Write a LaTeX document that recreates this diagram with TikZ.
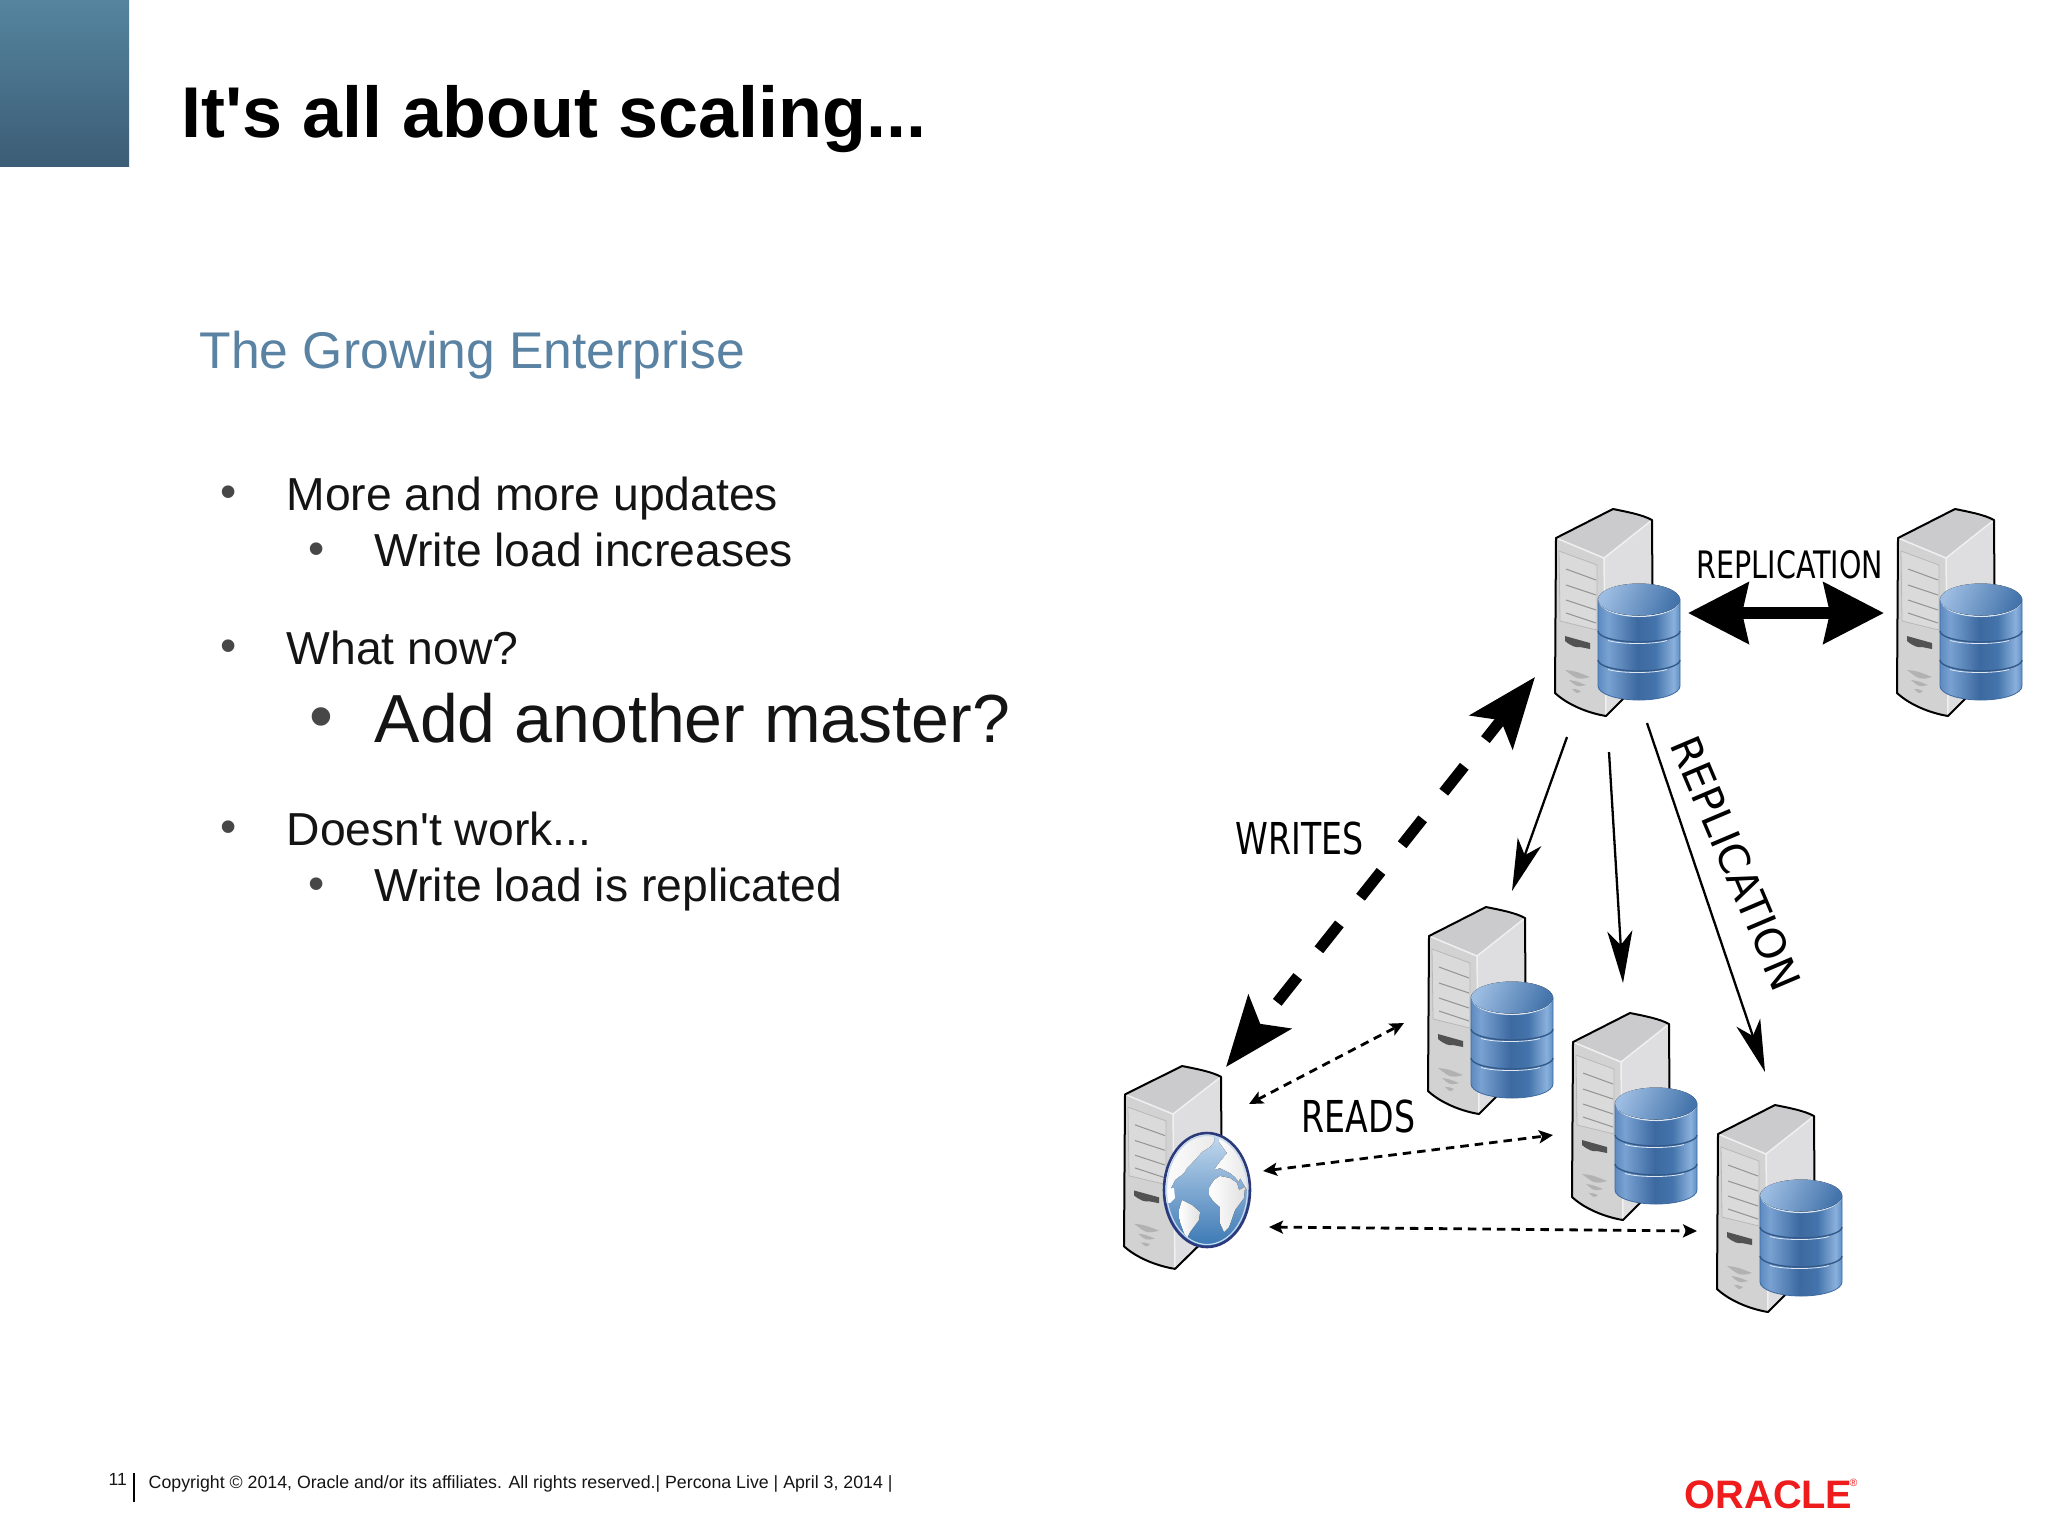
\documentclass[tikz,border=0pt]{standalone}
\usepackage{fontspec}
\newfontfamily\slidefont{Liberation Sans}
\newfontfamily\labelfont[FakeStretch=0.755]{DejaVu Sans}
\newfontfamily\sidefont{DejaVu Sans}
\usetikzlibrary{arrows.meta}
\usetikzlibrary{positioning}

\definecolor{subblue}{HTML}{5A82A3}
\definecolor{cornerA}{HTML}{55849F}
\definecolor{cornerB}{HTML}{3C5D75}
\definecolor{bodyblack}{HTML}{141414}
\definecolor{oraclered}{HTML}{EE1C1C}
\definecolor{dbA}{HTML}{5D8AC0}
\definecolor{dbB}{HTML}{79A2D2}
\definecolor{dbC}{HTML}{3C69A0}
\definecolor{dbE}{HTML}{4474AB}
\definecolor{dbD}{HTML}{8AB0DC}
\definecolor{dbF}{HTML}{6090C6}
\definecolor{globeA}{HTML}{C5DAEF}
\definecolor{globeB}{HTML}{3A78B4}
\definecolor{globeC}{HTML}{2B3A7A}
\definecolor{srvtop}{HTML}{CBCACC}
\definecolor{srvside}{HTML}{DEDDDF}
\definecolor{srvfront}{HTML}{D2D2D3}
\definecolor{srvpanel}{HTML}{DADADB}
\pgfdeclarehorizontalshading{dbbody}{100bp}{color(0bp)=(dbA); color(25bp)=(dbA); color(31bp)=(dbB); color(49bp)=(dbC); color(60bp)=(dbE); color(71bp)=(dbD); color(75bp)=(dbF); color(100bp)=(dbF)}

\tikzset{
  txt/.style={inner sep=0pt,anchor=base west,text=bodyblack},
  bodytxt/.style={txt,font=\slidefont\fontsize{13.16}{16}\selectfont},
  dot/.style={inner sep=0pt,anchor=base,text=black!72,font=\slidefont\fontsize{13.16}{16}\selectfont},
  bigdot/.style={dot,font=\slidefont\fontsize{19.35}{22}\selectfont},
  archlabel/.style={inner sep=0pt,anchor=base west,text=black,font=\labelfont\fontsize{12.5}{14}\selectfont},
  writearrow/.style={line width=.11cm,dash pattern=on .33cm off .34cm,dash phase=.36cm,
    {Stealth[length=.7cm,width=.54cm,inset=.15cm]}-{Stealth[length=.7cm,width=.54cm,inset=.15cm]}},
  syncarrow/.style={line width=.12cm,{Stealth[length=.6cm,width=.6cm,inset=.06cm]}-{Stealth[length=.6cm,width=.6cm,inset=.06cm]}},
  copyarrow/.style={line width=.023cm,-{Stealth[length=.52cm,width=.25cm,inset=.14cm]}},
  readarrow/.style={line width=.028cm,dash pattern=on .085cm off .06cm,
    {Stealth[length=.14cm,width=.13cm,inset=.03cm]}-{Stealth[length=.14cm,width=.13cm,inset=.03cm]}},
  serverbox/.pic={
    \fill[srvtop] (-57,29) -- (0,0) -- (39,11) -- (-9,49) -- cycle;
    \fill[srvside] (39,11) -- (40,160) -- (-7,206) -- (-9,49) -- cycle;
    \fill[srvfront] (-57,29) -- (-9,49) -- (-7,206) .. controls (-25,204) and (-45,196) .. (-58,184) -- cycle;
    \draw[black!6,line width=.015cm] (-57,29) -- (-9,49) -- (39,11);
    \draw[black!6,line width=.015cm] (-9,49) -- (-7,206);
    \fill[srvpanel,draw=black!28,line width=.008cm] (-54,42) -- (-16,56) -- (-16,121) -- (-53,112) -- cycle;
    \foreach \ya/\yb in {60/71,76/86,91/101,104/114} \draw[black!42,line width=.01cm] (-47,\ya) -- (-17,\yb);
    \fill[black!68] (-48,127) -- (-23,134) -- (-23,140) -- (-33,138) .. controls (-37,139) and (-42,137) .. (-48,132) -- cycle;
    \fill[black!30] (-48,161) .. controls (-38,162) .. (-23,168) .. controls (-35,171) .. (-48,161);
    \fill[black!30] (-44,171) .. controls (-37,172) .. (-27,176) .. controls (-36,178) .. (-44,171);
    \fill[black!30] (-41,180) .. controls (-37,180) .. (-32,182) .. controls (-36,185) .. (-41,180);
    \draw[black,line width=.02cm,line join=round] (-57,29) -- (0,0) .. controls (15,3) and (30,6) .. (39,11) -- (40,160) -- (-7,207)
      .. controls (-25,204) and (-45,196) .. (-58,184) -- cycle;
  },
  dbbox/.pic={
    \path[shading=dbbody,draw=dbC,line width=.008cm] (-15,90) -- (-15,177) arc[start angle=180,end angle=0,x radius=41,y radius=14] -- (67,90) -- cycle;
    \foreach \yg in {122,151} {
      \draw[dbC!85!black,line width=.014cm] (-15,\yg) arc[start angle=180,end angle=0,x radius=41,y radius=11];
      \draw[white!75!dbB,line width=.008cm] (-5,\yg+9.5) arc[start angle=150,end angle=30,x radius=34,y radius=6];
    }
    \fill[white!75!dbB] (-15,90.5) arc[start angle=180,end angle=0,x radius=41,y radius=17.5] arc[start angle=0,end angle=180,x radius=41,y radius=16] -- cycle;
    \fill[left color=dbD!85!white,right color=dbE,shading angle=65] (26,90.5) ellipse[x radius=41,y radius=16];
  },
  globebox/.pic={
    \begin{scope}
      \clip (0,0) ellipse[x radius=43,y radius=57];
      \fill[top color=globeA,bottom color=globeB] (-43,-57) rectangle (43,57);
      \fill[left color=white,right color=black!12] plot coordinates {(2,-2) (7,-10) (13,-14) (23,-12) (30,-7) (32,0) (38,-3) (37,8) (28,20) (22,37) (17,42) (13,33) (13,17) (7,12) (2,5)} -- cycle;
      \fill[left color=white,right color=black!8] plot coordinates {(-50,3) (-50,-30) (-30,-60) (7,-60) (7,-48) (3,-43) (-5,-38) (-15,-27) (-20,-22) (-23,-17) (-32,-10) (-37,0) (-39,3)} -- cycle;
      \fill[left color=white,right color=black!12] plot coordinates {(12,-60) (12,-48) (20,-37) (12,-27) (7,-20) (13,-22) (23,-17) (28,-13) (32,-8) (33,-12) (40,0) (50,0) (50,-30) (30,-60)} -- cycle;
      \fill[left color=white,right color=black!12] plot coordinates {(-28,20) (-25,10) (-15,15) (-7,22) (-8,30) (-17,42) (-20,48) (-23,43) (-27,32)} -- cycle;
      \fill[white] plot coordinates {(-50,0) (-33,-2) (-32,8) (-37,13) (-50,12)} -- cycle;
      \draw[globeA,line width=.012cm] (0,0) ellipse[x radius=40.5,y radius=54.5];
    \end{scope}
    \draw[globeC,line width=.026cm] (0,0) ellipse[x radius=43,y radius=57];
  },
}

\begin{document}
\begin{tikzpicture}[x=.01cm,y=-.01cm]
  \useasboundingbox (0,0) rectangle (2048,1535);
  \fill[top color=cornerA,bottom color=cornerB] (0,0) rectangle (129,166);

  % slide text
  \node[txt,text=black,font=\slidefont\fontsize{20.45}{24}\selectfont\bfseries] (title) at (181,137) {It's all about scaling...};
  \node[txt,text=subblue,font=\slidefont\fontsize{14.68}{18}\selectfont] (subtitle) at (199,368) {The Growing Enterprise};
  \node[dot] (b_1) at (229,507) {•};
  \node[bodytxt] (t_1) at (286,510) {More and more updates};
  \node[dot] (b_2) at (317,564) {•};
  \node[bodytxt] (t_2) at (374,566) {Write load increases};
  \node[dot] (b_3) at (229,661) {•};
  \node[bodytxt] (t_3) at (286,664) {What now?};
  \node[bigdot] (b_4) at (321,739) {•};
  \node[txt,font=\slidefont\fontsize{19.35}{22}\selectfont] (t_4) at (374,742) {Add another master?};
  \node[dot] (b_5) at (229,842) {•};
  \node[bodytxt] (t_5) at (286,845) {Doesn't work...};
  \node[dot] (b_6) at (317,899) {•};
  \node[bodytxt] (t_6) at (374,901) {Write load is replicated};

  % footer
  \node[txt,font=\slidefont\fontsize{5}{6}\selectfont] (pagenum) at (108,1485) {11};
  \draw[black,line width=.012cm] (134,1473) -- (134,1502);
  \node[txt,font=\slidefont\fontsize{5.05}{6}\selectfont] (copyright) at (148,1488) {Copyright © 2014, Oracle and/or its affiliates. All rights reserved.| Percona Live | April 3, 2014 |};
  \node[txt,text=oraclered,font=\slidefont\fontsize{11.3}{13}\selectfont\bfseries] (oracle) at (1684,1508) {ORACLE};
  \node[txt,text=oraclered,font=\slidefont\fontsize{3}{4}\selectfont] (oracle_r) at (1849,1486) {®};

  % servers
  \pic at (1613,509) {serverbox};
  \pic at (1613,509) {dbbox};
  \pic at (1955,509) {serverbox};
  \pic at (1955,509) {dbbox};
  \pic at (1486,907) {serverbox};
  \pic at (1486,907) {dbbox};
  \pic at (1630,1013) {serverbox};
  \pic at (1630,1013) {dbbox};
  \pic at (1775,1105) {serverbox};
  \pic at (1775,1105) {dbbox};
  \pic[yscale=.98] at (1182,1066) {serverbox};
  \pic at (1207,1190) {globebox};

  % connector ends
  \coordinate (sync_a) at (1688,613);
  \coordinate (sync_b) at (1884,613);
  \coordinate (write_a) at (1226,1067);
  \coordinate (write_b) at (1535,677);
  \coordinate (copy_1a) at (1567,737);
  \coordinate (copy_1b) at (1512,891);
  \coordinate (copy_2a) at (1609,752);
  \coordinate (copy_2b) at (1623,983);
  \coordinate (copy_3a) at (1647,723);
  \coordinate (copy_3b) at (1765,1072);
  \coordinate (read_1a) at (1249,1104);
  \coordinate (read_1b) at (1404,1023);
  \coordinate (read_2a) at (1263,1171);
  \coordinate (read_2b) at (1553,1135);
  \coordinate (read_3a) at (1269,1227);
  \coordinate (read_3b) at (1697,1231);

  \path
    (sync_a) edge[syncarrow] (sync_b)
    (write_a) edge[writearrow] (write_b)
    (copy_1a) edge[copyarrow] (copy_1b)
    (copy_2a) edge[copyarrow] (copy_2b)
    (copy_3a) edge[copyarrow] (copy_3b)
    (read_1a) edge[readarrow] (read_1b)
    (read_2a) edge[readarrow] (read_2b)
    (read_3a) edge[readarrow] (read_3b);

  \node[archlabel,font=\labelfont\fontsize{10.75}{12}\selectfont] (sync_label) at (1696,578) {REPLICATION};
  \node[archlabel] (write_label) at (1235,854) {WRITES};
  \node[archlabel] (read_label) at (1301,1132) {READS};
  \node[inner sep=0pt,text=black,font=\sidefont\fontsize{11.8}{13}\selectfont,rotate=-67] (copy_label) at (1736,863) {REPLICATION};
\end{tikzpicture}
\end{document}
